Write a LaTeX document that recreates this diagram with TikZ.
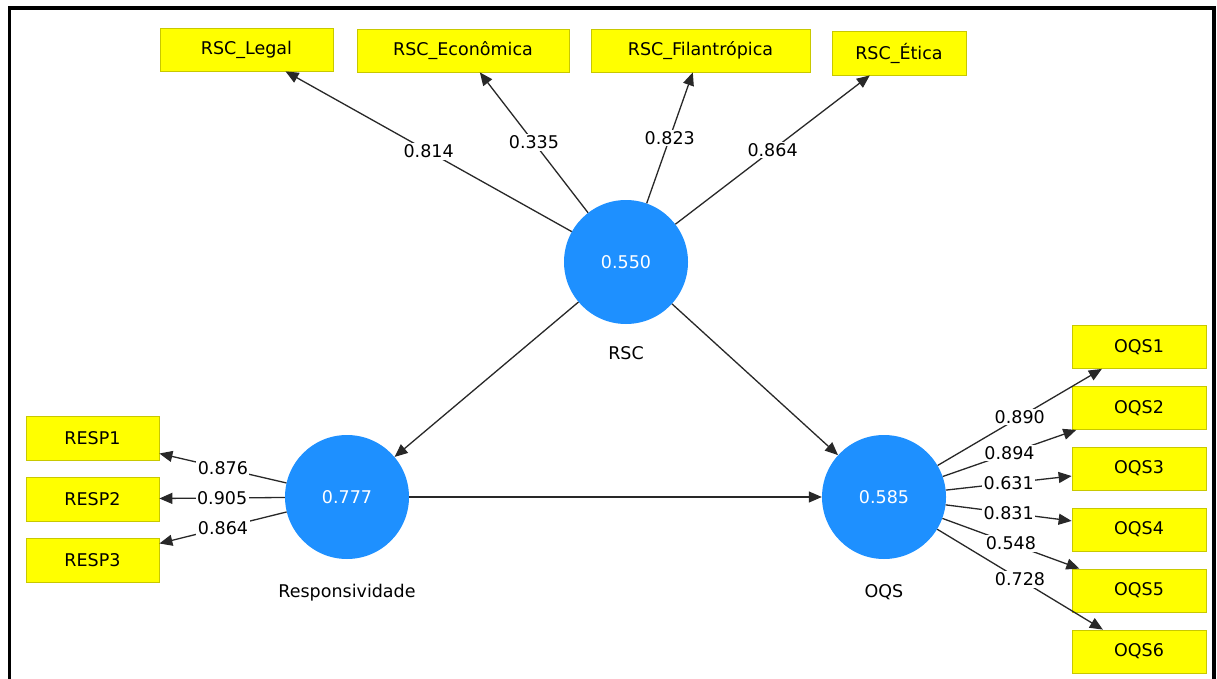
\documentclass[tikz,border=0pt]{standalone}
\usepackage{fontspec}
\setmainfont{DejaVu Sans}
\usetikzlibrary{arrows.meta}
\definecolor{lvblue}{RGB}{30,144,255}
\definecolor{mvyellow}{RGB}{255,255,0}
\definecolor{mvborder}{RGB}{200,200,0}
\definecolor{edgegray}{RGB}{40,40,40}
\begin{document}
\begin{tikzpicture}[x=1pt,y=-1pt,
  every node/.style={font=\fontsize{17.5}{20}\selectfont},
  latent/.style={circle, fill=lvblue, minimum size=124pt, inner sep=0pt, text=white},
  indicator/.style={rectangle, fill=mvyellow, draw=mvborder, line width=0.8pt, inner sep=0pt, minimum height=43pt},
  linkarrow/.style={draw=edgegray, line width=1.3pt, -{Triangle[length=13pt,width=11pt]}},
  coef/.style={fill=white, inner sep=1.5pt, pos=0.5},
  caption/.style={text=black}]
\useasboundingbox (0,0) rectangle (1217,679);
\fill[white] (0,0) rectangle (1217,679);
\draw[line width=3.5pt] (9.5,679) -- (9.5,8) -- (1214,8) -- (1214,679);

% latent variables
\node[latent] (rsc) at (626,262) {0.550};
\node[latent] (resp) at (347,497) {0.777};
\node[latent] (oqs) at (884,497) {0.585};
\node[caption] (rsclab) at (626,353) {RSC};
\node[caption] (resplab) at (347,593) {Responsividade};
\node[caption] (oqslab) at (884,592) {OQS};

% indicators of RSC
\node[indicator, minimum width=173pt] (legal) at (246.5,49.5) {RSC\_Legal};
\node[indicator, minimum width=212pt] (econ) at (463,50.5) {RSC\_Econômica};
\node[indicator, minimum width=219pt] (filan) at (700.5,50.5) {RSC\_Filantrópica};
\node[indicator, minimum width=134pt, minimum height=44pt] (etica) at (899,53) {RSC\_Ética};

% indicators of Responsividade
\node[indicator, minimum width=133pt, minimum height=44pt] (r1) at (92.5,438) {RESP1};
\node[indicator, minimum width=133pt, minimum height=44pt] (r2) at (92.5,499) {RESP2};
\node[indicator, minimum width=133pt, minimum height=44pt] (r3) at (92.5,560) {RESP3};

% indicators of OQS
\node[indicator, minimum width=134pt] (o1) at (1139,347) {OQS1};
\node[indicator, minimum width=134pt] (o2) at (1139,408) {OQS2};
\node[indicator, minimum width=134pt] (o3) at (1139,468.5) {OQS3};
\node[indicator, minimum width=134pt] (o4) at (1139,529.5) {OQS4};
\node[indicator, minimum width=134pt] (o5) at (1139,590.5) {OQS5};
\node[indicator, minimum width=134pt] (o6) at (1139,651.5) {OQS6};

% outer loadings
\draw[linkarrow] (rsc) -- node[coef]{0.814} (legal);
\draw[linkarrow] (rsc) -- node[coef]{0.335} (econ);
\draw[linkarrow] (rsc) -- node[coef]{0.823} (filan);
\draw[linkarrow] (rsc) -- node[coef]{0.864} (etica);

\draw[linkarrow] (resp) -- node[coef]{0.876} (r1);
\draw[linkarrow] (resp) -- node[coef]{0.905} (r2);
\draw[linkarrow] (resp) -- node[coef]{0.864} (r3);

\draw[linkarrow] (oqs) -- node[coef]{0.890} (o1);
\draw[linkarrow] (oqs) -- node[coef]{0.894} (o2);
\draw[linkarrow] (oqs) -- node[coef]{0.631} (o3);
\draw[linkarrow] (oqs) -- node[coef]{0.831} (o4);
\draw[linkarrow] (oqs) -- node[coef]{0.548} (o5);
\draw[linkarrow] (oqs) -- node[coef]{0.728} (o6);

% structural paths
\draw[linkarrow] (rsc) -- (resp);
\draw[linkarrow] (rsc) -- (oqs);
\draw[linkarrow] (resp) -- (oqs);
\end{tikzpicture}
\end{document}
